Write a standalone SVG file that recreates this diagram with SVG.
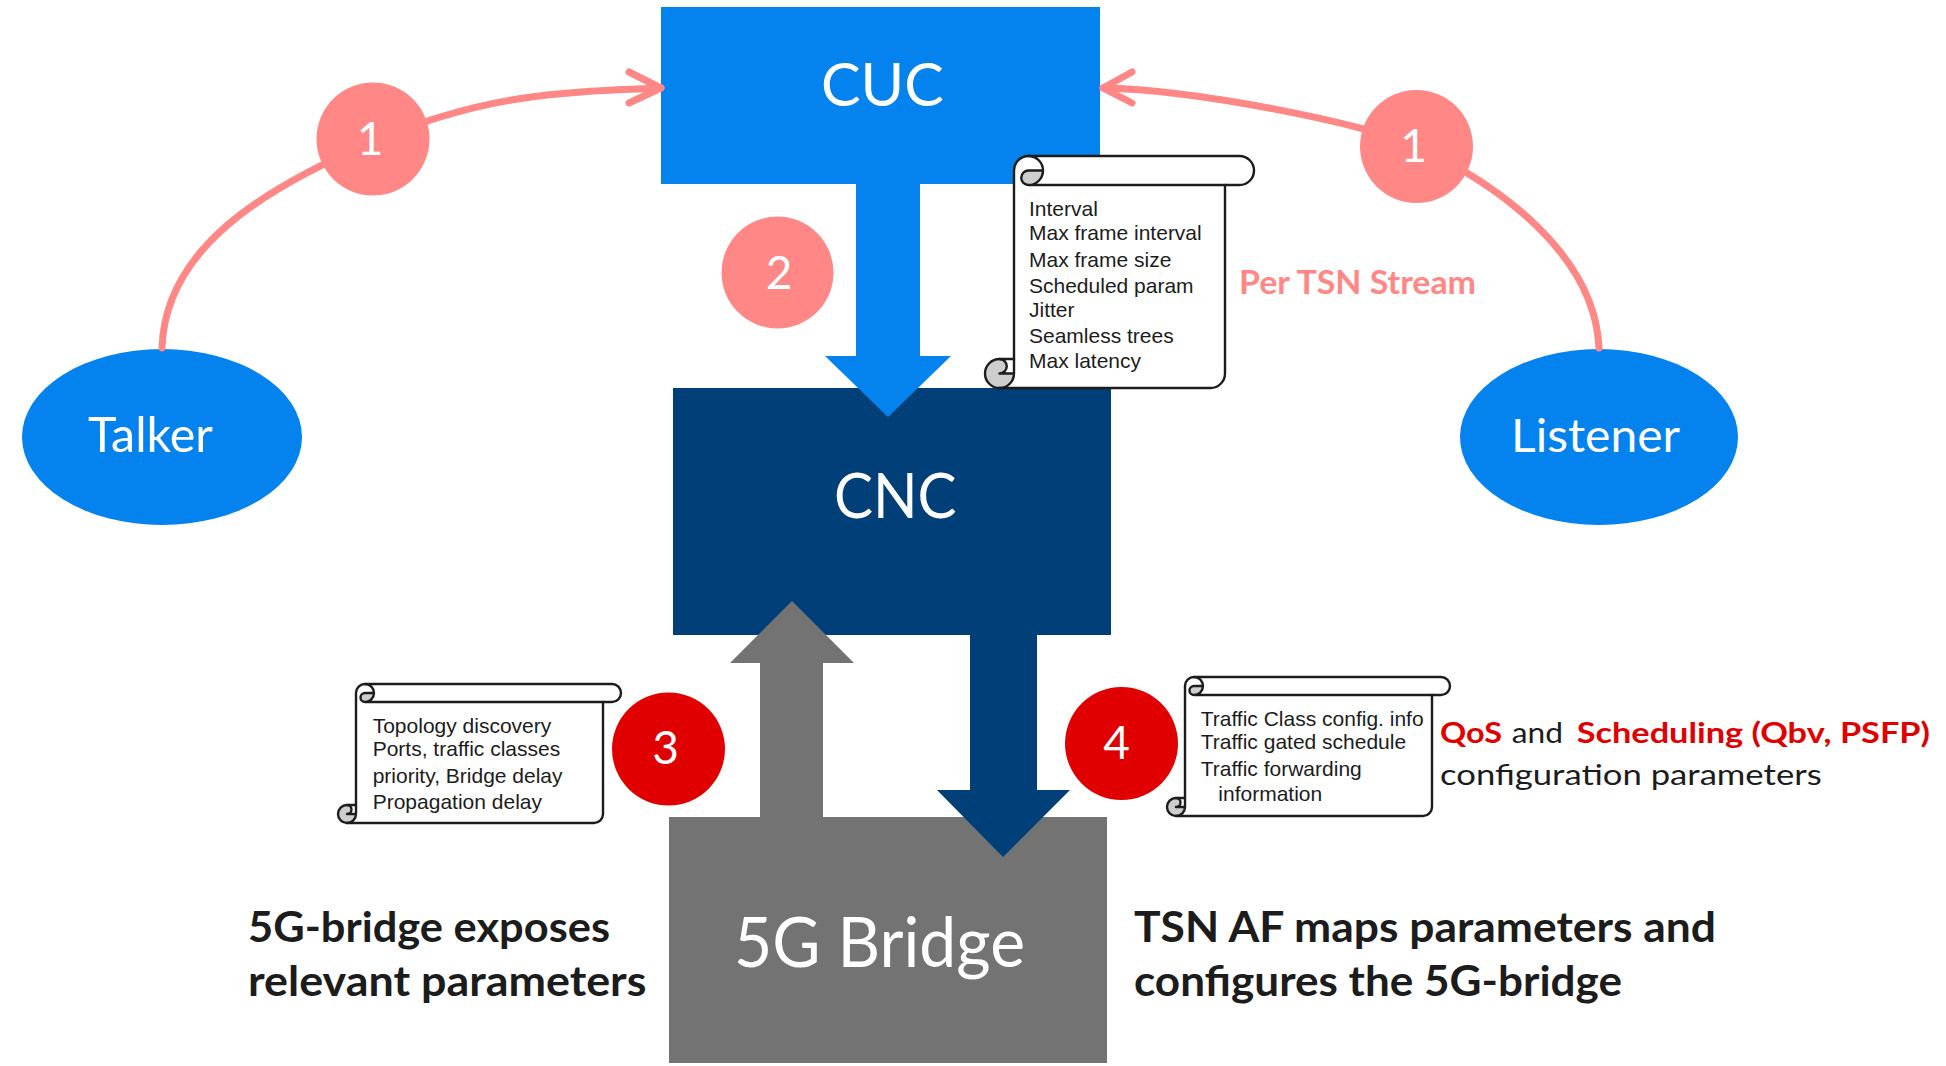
<svg xmlns="http://www.w3.org/2000/svg" width="1946" height="1066" viewBox="0 0 1946 1066">
  <style>
    .sans { font-family: Lato, "Liberation Sans", sans-serif; }
    .white { fill: #ffffff; }
    .ink { fill: #1c1c1c; }
    .red { fill: #e10000; }
    .pink { fill: #ff8785; }
    .bold { font-weight: bold; }
    .note { font-family: "Liberation Sans", Arial, sans-serif; font-size: 21px; fill: #1c1c1c; }
    .flow { fill: none; stroke: #ff8785; stroke-width: 7; stroke-linecap: round; stroke-linejoin: round; }
    .paper { fill: #ffffff; stroke: none; }
    .curl { fill: #cdcdcd; stroke: none; }
    .edge { fill: none; stroke: #1c1c1c; stroke-width: 2.4; stroke-linejoin: round; stroke-linecap: round; }
    .badge-num { font-family: Lato, "Liberation Sans", sans-serif; font-size: 46px; fill: #ffffff; text-anchor: middle; }
  </style>

  <!-- main blocks -->
  <g id="cuc">
    <rect x="661" y="7" width="439" height="177" fill="#0482ee"/>
    <text class="sans white" x="882.4" y="105.7" font-size="60" text-anchor="middle" textLength="123" lengthAdjust="spacingAndGlyphs">CUC</text>
  </g>
  <g id="cnc">
    <rect x="673" y="388" width="438" height="247" fill="#003f77"/>
    <text class="sans white" x="895.3" y="518.3" font-size="61" text-anchor="middle" textLength="122.7" lengthAdjust="spacingAndGlyphs">CNC</text>
  </g>
  <g id="bridge">
    <rect x="669" y="817" width="438" height="246" fill="#737373"/>
    <text class="sans white" x="879.5" y="967" font-size="70" text-anchor="middle" textLength="291" lengthAdjust="spacingAndGlyphs">5G Bridge</text>
  </g>
  <g id="talker">
    <ellipse cx="162" cy="437" rx="140" ry="88" fill="#0482ee"/>
    <text class="sans white" x="150.5" y="452" font-size="48" text-anchor="middle" textLength="125" lengthAdjust="spacingAndGlyphs">Talker</text>
  </g>
  <g id="listener">
    <ellipse cx="1599" cy="437" rx="139" ry="88" fill="#0482ee"/>
    <text class="sans white" x="1595.5" y="452" font-size="47" text-anchor="middle" textLength="169" lengthAdjust="spacingAndGlyphs">Listener</text>
  </g>

  <!-- connectors -->
  <g id="connectors">
    <!-- Talker to CUC -->
    <path class="flow" d="M162,348 C165,250 260,190 372,142 S560,92 661,88"/>
    <polyline class="flow" points="629,72 661,88 629,103"/>
    <!-- Listener to CUC -->
    <path class="flow" d="M1599,348 C1595,255 1500,185 1416,146 C1370,125 1200,90 1103,88"/>
    <polyline class="flow" points="1132,72 1103,88 1132,103"/>
    <!-- CUC to CNC -->
    <polygon fill="#0482ee" points="856,184 920,184 920,356 951,356 888,417 825,356 856,356"/>
    <!-- 5G Bridge to CNC -->
    <polygon fill="#737373" points="760,817 760,663 730,663 792,601 854,663 823,663 823,817"/>
    <!-- CNC to 5G Bridge -->
    <polygon fill="#003f77" points="970,635 1037,635 1037,790 1070,790 1003,857 937,790 970,790"/>
  </g>

  <!-- step badges -->
  <g id="step1-talker">
    <circle cx="373" cy="139" r="56.5" fill="#ff8785"/>
    <text class="badge-num" x="370" y="155">1</text>
  </g>
  <g id="step1-listener">
    <circle cx="1416.5" cy="146.5" r="56.5" fill="#ff8785"/>
    <text class="badge-num" x="1413.5" y="162">1</text>
  </g>
  <g id="step2">
    <circle cx="777.5" cy="272.5" r="56" fill="#ff8785"/>
    <text class="badge-num" x="779" y="289">2</text>
  </g>
  <g id="step3">
    <circle cx="668.5" cy="749" r="56.5" fill="#e10000"/>
    <text class="badge-num" x="665.5" y="764">3</text>
  </g>
  <g id="step4">
    <circle cx="1121.5" cy="743.5" r="56.5" fill="#e10000"/>
    <text class="badge-num" x="1116.5" y="758.5">4</text>
  </g>

  <!-- stream parameter scroll -->
  <g id="scroll-stream">
    <path class="paper" d="M999.5,388 A14.5,14.5 0 0 0 1014,373.5 L999.5,373.5 A7.25,7.25 0 0 0 999.5,359 L1014,359 L1014,170.5 A14.5,14.5 0 0 1 1028.5,156 L1239.5,156 A14.5,14.5 0 0 1 1239.5,185 L1225,185 L1225,373.5 A14.5,14.5 0 0 1 1210.5,388 Z"/>
    <path class="curl" d="M1043,170.5 A14.5,14.5 0 0 1 1028.5,185 A7.25,7.25 0 0 1 1028.5,170.5 Z"/>
    <path class="curl" d="M1014,373.5 A14.5,14.5 0 1 1 999.5,359 A7.25,7.25 0 0 1 999.5,373.5 Z"/>
    <path class="edge" stroke-width="2.7" d="M1014,359 L1014,170.5 A14.5,14.5 0 0 1 1028.5,156 L1239.5,156 A14.5,14.5 0 0 1 1239.5,185 L1225,185 L1225,373.5 A14.5,14.5 0 0 1 1210.5,388 L999.5,388 A14.5,14.5 0 0 1 999.5,359 Z"/>
    <path class="edge" stroke-width="2.7" d="M1028.5,156 A14.5,14.5 0 0 1 1028.5,185 A7.25,7.25 0 0 1 1028.5,170.5 L1043,170.5 M1225,185 L1028.5,185 M999.5,359 A7.25,7.25 0 0 1 999.5,373.5 L1014,373.5 M999.5,388 A14.5,14.5 0 0 0 1014,373.5 L1014,359"/>
    <text class="note" x="1029" y="216">Interval</text>
    <text class="note" x="1029" y="240">Max frame interval</text>
    <text class="note" x="1029" y="266.7">Max frame size</text>
    <text class="note" x="1029" y="292.7">Scheduled param</text>
    <text class="note" x="1029" y="316.7">Jitter</text>
    <text class="note" x="1029" y="343.3">Seamless trees</text>
    <text class="note" x="1029" y="367.7">Max latency</text>
  </g>

  <!-- exposed bridge parameter scroll -->
  <g id="scroll-exposed">
    <path class="paper" d="M347,823 A9,9 0 0 0 356,814 L347,814 A4.5,4.5 0 0 0 347,805 L356,805 L356,693 A9,9 0 0 1 365,684 L612,684 A9,9 0 0 1 612,702 L603,702 L603,814 A9,9 0 0 1 594,823 Z"/>
    <path class="curl" d="M374,693 A9,9 0 0 1 365,702 A4.5,4.5 0 0 1 365,693 Z"/>
    <path class="curl" d="M356,814 A9,9 0 1 1 347,805 A4.5,4.5 0 0 1 347,814 Z"/>
    <path class="edge" d="M356,805 L356,693 A9,9 0 0 1 365,684 L612,684 A9,9 0 0 1 612,702 L603,702 L603,814 A9,9 0 0 1 594,823 L347,823 A9,9 0 0 1 347,805 Z"/>
    <path class="edge" d="M365,684 A9,9 0 0 1 365,702 A4.5,4.5 0 0 1 365,693 L374,693 M603,702 L365,702 M347,805 A4.5,4.5 0 0 1 347,814 L356,814 M347,823 A9,9 0 0 0 356,814 L356,805"/>
    <text class="note" x="372.7" y="733.3">Topology discovery</text>
    <text class="note" x="372.7" y="756">Ports, traffic classes</text>
    <text class="note" x="372.7" y="782.7">priority, Bridge delay</text>
    <text class="note" x="372.7" y="808.5">Propagation delay</text>
  </g>

  <!-- configuration scroll -->
  <g id="scroll-config">
    <path class="paper" d="M1176,816 A9,9 0 0 0 1185,807 L1176,807 A4.5,4.5 0 0 0 1176,798 L1185,798 L1185,686 A9,9 0 0 1 1194,677 L1441,677 A9,9 0 0 1 1441,695 L1432,695 L1432,807 A9,9 0 0 1 1423,816 Z"/>
    <path class="curl" d="M1203,686 A9,9 0 0 1 1194,695 A4.5,4.5 0 0 1 1194,686 Z"/>
    <path class="curl" d="M1185,807 A9,9 0 1 1 1176,798 A4.5,4.5 0 0 1 1176,807 Z"/>
    <path class="edge" d="M1185,798 L1185,686 A9,9 0 0 1 1194,677 L1441,677 A9,9 0 0 1 1441,695 L1432,695 L1432,807 A9,9 0 0 1 1423,816 L1176,816 A9,9 0 0 1 1176,798 Z"/>
    <path class="edge" d="M1194,677 A9,9 0 0 1 1194,695 A4.5,4.5 0 0 1 1194,686 L1203,686 M1432,695 L1194,695 M1176,798 A4.5,4.5 0 0 1 1176,807 L1185,807 M1176,816 A9,9 0 0 0 1185,807 L1185,798"/>
    <text class="note" x="1200.7" y="725.7">Traffic Class config. info</text>
    <text class="note" x="1200.7" y="749.3">Traffic gated schedule</text>
    <text class="note" x="1200.7" y="776">Traffic forwarding</text>
    <text class="note" x="1218.3" y="801">information</text>
  </g>

  <!-- captions -->
  <g id="caption-stream">
    <text class="sans bold pink" x="1239" y="294.4" font-size="32" textLength="237" lengthAdjust="spacingAndGlyphs">Per TSN Stream</text>
  </g>
  <g id="caption-config">
    <text class="sans bold red" x="1440" y="743.3" font-size="28.5" textLength="62" lengthAdjust="spacingAndGlyphs">QoS</text>
    <text class="sans ink" x="1511.7" y="743.3" font-size="28.5" textLength="51.3" lengthAdjust="spacingAndGlyphs">and</text>
    <text class="sans bold red" x="1576.7" y="743.3" font-size="28.5" textLength="353.3" lengthAdjust="spacingAndGlyphs">Scheduling (Qbv, PSFP)</text>
    <text class="sans ink" x="1440" y="785" font-size="28.5" textLength="381.7" lengthAdjust="spacingAndGlyphs">configuration parameters</text>
  </g>
  <g id="caption-expose">
    <text class="sans bold ink" x="248" y="942" font-size="42" textLength="362" lengthAdjust="spacingAndGlyphs">5G-bridge exposes</text>
    <text class="sans bold ink" x="248" y="996" font-size="42" textLength="398.5" lengthAdjust="spacingAndGlyphs">relevant parameters</text>
  </g>
  <g id="caption-map">
    <text class="sans bold ink" x="1134" y="942" font-size="42" textLength="582" lengthAdjust="spacingAndGlyphs">TSN AF maps parameters and</text>
    <text class="sans bold ink" x="1134" y="996" font-size="42" textLength="488" lengthAdjust="spacingAndGlyphs">configures the 5G-bridge</text>
  </g>
</svg>
